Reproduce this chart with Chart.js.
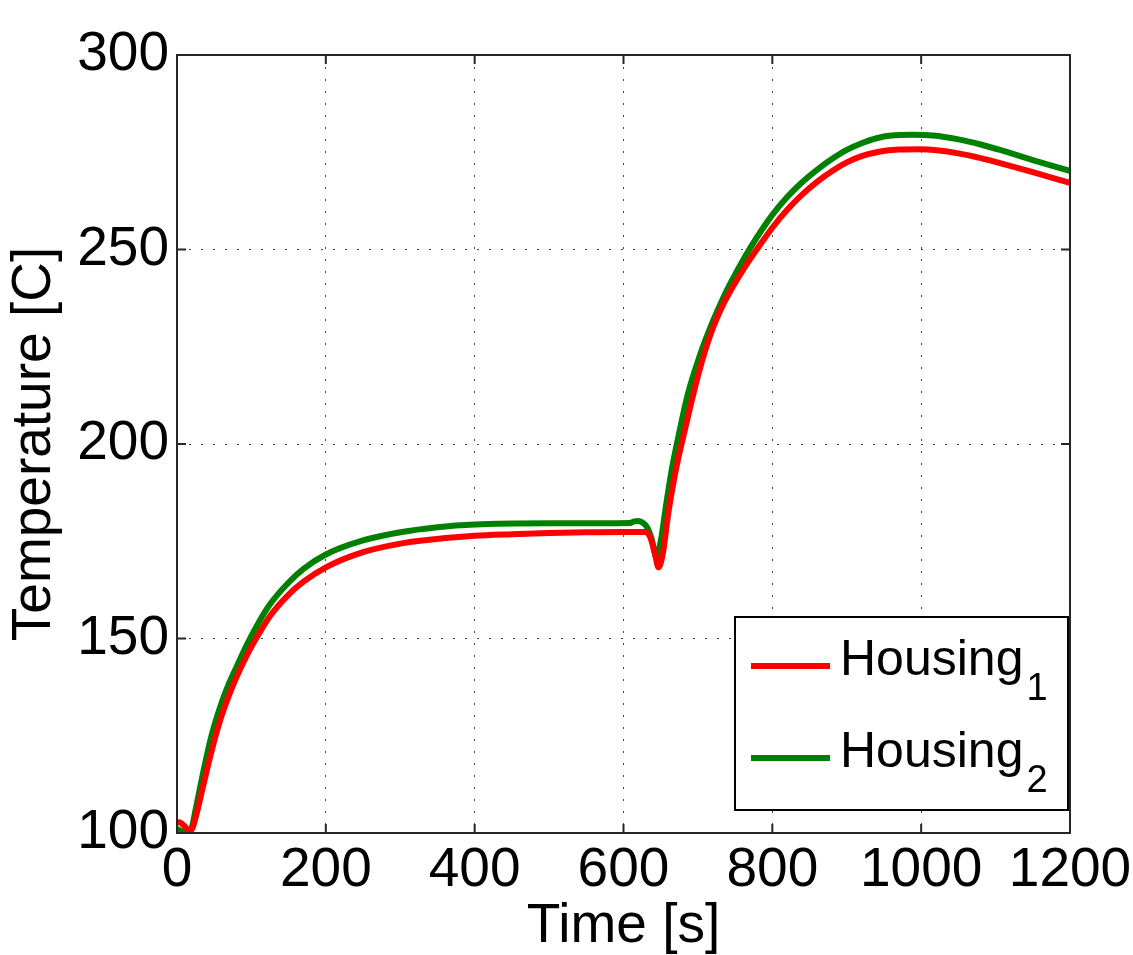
<!DOCTYPE html>
<html>
<head>
<meta charset="utf-8">
<title>Housing temperature</title>
<script src="https://cdn.jsdelivr.net/npm/chart.js@4.4.1/dist/chart.umd.min.js"></script>
<style>
    html, body { margin: 0; padding: 0; background: #fff; }
    #wrap { width: 1133px; height: 955px; }
</style>
</head>
<body>
<div id="wrap"><canvas id="tempChart" width="1133" height="955"></canvas></div>
<script>
// Housing 1 (red)
const timeH1 = [0, 5, 10, 15, 20, 25, 35, 45, 58, 70, 80, 95, 110, 125, 150, 170, 200, 250, 300, 330,
    400, 450, 500, 550, 600, 629, 636, 642, 647, 653, 660, 667, 673, 679, 690, 700, 710, 720, 733, 747,
    763, 779, 800, 820, 840, 860, 882, 900, 920, 945, 970, 1000, 1021, 1050, 1080, 1106, 1150, 1200];
const tempH1 = [102.8, 102.6, 101.8, 100.8, 101, 104, 112, 120, 129, 135.5, 140.1, 146.1, 151.2, 155.8, 161.3, 164.6, 168.3, 172.2, 174.4, 175.2,
    176.4, 176.8, 177.1, 177.3, 177.4, 177.4, 176, 172, 168.3, 172, 182, 190, 195.8, 200.8, 209.8, 217.5, 224.2, 229.8, 235.5, 240.5,
    245.5, 250, 255.6, 260.2, 264.1, 267.4, 270.4, 272.4, 274, 275.2, 275.7, 275.8, 275.5, 274.7, 273.5, 272.2, 269.9, 267.1];

// Housing 2 (green)
const timeH2 = [0, 5, 10, 14, 20, 25, 35, 45, 58, 70, 80, 95, 110, 125, 150, 170, 200, 250, 300, 350,
    400, 500, 609, 614, 620, 627, 632, 638, 644, 650, 657, 664, 672, 686, 703, 720, 735, 747, 770, 800,
    820, 840, 860, 882, 900, 920, 940, 960, 990, 1016, 1050, 1080, 1106, 1150, 1200];
const tempH2 = [101, 100.6, 100, 99.8, 101.5, 106, 115.4, 124, 132.4, 138.5, 142.7, 148.8, 154.2, 158.8, 164.4, 167.9, 171.6, 175.2, 177.3, 178.6,
    179.3, 179.6, 179.7, 180.1, 180.2, 179.6, 178.5, 175.5, 171, 175, 184, 192.5, 200.3, 212.5, 223, 231.5, 238, 242.5, 250.3, 258.9,
    263.5, 267.3, 270.5, 273.5, 275.6, 277.3, 278.6, 279.3, 279.5, 279.3, 278.3, 277, 275.6, 273, 270.2];

const seriesNames = ['Housing', 'Housing'];
const seriesSubs = ['1', '2'];
const seriesColors = ['#ff0000', '#008000'];

const FONT = "'Liberation Sans', Arial, Helvetica, sans-serif";

function toPoints(xs, ys) {
    return xs.map((x, i) => ({ x: x, y: ys[i] }));
}

// box around the plot + inward tick marks, like MATLAB
const framePlugin = {
    id: 'frame',
    afterDatasetsDraw(chart) {
        const { ctx, chartArea: a, scales } = chart;
        ctx.save();
        ctx.strokeStyle = '#262626';
        ctx.lineWidth = 2;
        ctx.setLineDash([]);
        ctx.beginPath();
        scales.x.ticks.forEach(t => {
            const px = scales.x.getPixelForValue(t.value);
            ctx.moveTo(px, a.bottom); ctx.lineTo(px, a.bottom - 9);
            ctx.moveTo(px, a.top); ctx.lineTo(px, a.top + 9);
        });
        scales.y.ticks.forEach(t => {
            const py = scales.y.getPixelForValue(t.value);
            ctx.moveTo(a.left, py); ctx.lineTo(a.left + 9, py);
            ctx.moveTo(a.right, py); ctx.lineTo(a.right - 9, py);
        });
        ctx.stroke();
        ctx.strokeRect(a.left, a.top, a.right - a.left, a.bottom - a.top);
        ctx.restore();
    }
};

// legend with subscripts, lower right inside the axes
const subLegend = {
    id: 'subLegend',
    afterDraw(chart) {
        const { ctx, chartArea: a } = chart;
        const w = 333, h = 193;
        const left = a.right - w - 2, top = a.bottom - h - 23;
        ctx.save();
        ctx.fillStyle = '#fff';
        ctx.fillRect(left, top, w, h);
        ctx.strokeStyle = '#000';
        ctx.lineWidth = 2;
        ctx.strokeRect(left, top, w, h);
        chart.data.datasets.forEach((ds, i) => {
            const ly = top + 49 + i * 92;
            ctx.strokeStyle = ds.borderColor;
            ctx.lineWidth = 6;
            ctx.beginPath();
            ctx.moveTo(left + 16, ly);
            ctx.lineTo(left + 95, ly);
            ctx.stroke();
            ctx.fillStyle = '#000';
            ctx.textBaseline = 'alphabetic';
            ctx.font = '50px ' + FONT;
            ctx.fillText(seriesNames[i], left + 105, ly + 9);
            const wName = ctx.measureText(seriesNames[i]).width;
            ctx.font = '38px ' + FONT;
            ctx.fillText(seriesSubs[i], left + 108 + wName, ly + 34);
        });
        ctx.restore();
    }
};

const ctx = document.getElementById('tempChart').getContext('2d');
new Chart(ctx, {
    type: 'line',
    data: {
        datasets: [{
            label: 'Housing₁',
            data: toPoints(timeH1, tempH1),
            borderColor: seriesColors[0],
            borderWidth: 6,
            pointRadius: 0,
            cubicInterpolationMode: 'monotone',
            fill: false
        }, {
            label: 'Housing₂',
            data: toPoints(timeH2, tempH2),
            borderColor: seriesColors[1],
            borderWidth: 6,
            pointRadius: 0,
            cubicInterpolationMode: 'monotone',
            fill: false
        }]
    },
    options: {
        responsive: false,
        animation: false,
        layout: { padding: { left: 0, top: 55, right: 63, bottom: 0 } },
        plugins: {
            legend: { display: false },
            tooltip: { enabled: false }
        },
        scales: {
            x: {
                type: 'linear',
                min: 0,
                max: 1200,
                afterFit: s => {
                    s.height = 122;
                    s.paddingLeft = 0;
                    s.paddingRight = 0;
                },
                ticks: {
                    stepSize: 200,
                    color: '#000',
                    padding: 5,
                    maxRotation: 0,
                    font: { family: FONT, size: 55 },
                    callback: function(value) {
                        return String(value);
                    }
                },
                grid: { color: '#444', lineWidth: 1, drawTicks: false },
                border: { display: false, dash: [2, 10] },
                title: {
                    display: true,
                    text: 'Time [s]',
                    color: '#000',
                    padding: { top: 0, bottom: -5 },
                    font: { family: FONT, size: 55 }
                }
            },
            y: {
                min: 100,
                max: 300,
                afterFit: s => { s.width = 177; },
                ticks: {
                    stepSize: 50,
                    color: '#000',
                    padding: 8,
                    font: { family: FONT, size: 55 }
                },
                grid: { color: '#444', lineWidth: 1, drawTicks: false },
                border: { display: false, dash: [2, 10] },
                title: {
                    display: true,
                    text: 'Temperature [C]',
                    color: '#000',
                    padding: { top: 2, bottom: 0 },
                    font: { family: FONT, size: 55 }
                }
            }
        }
    },
    plugins: [framePlugin, subLegend]
});
</script>
</body>
</html>
